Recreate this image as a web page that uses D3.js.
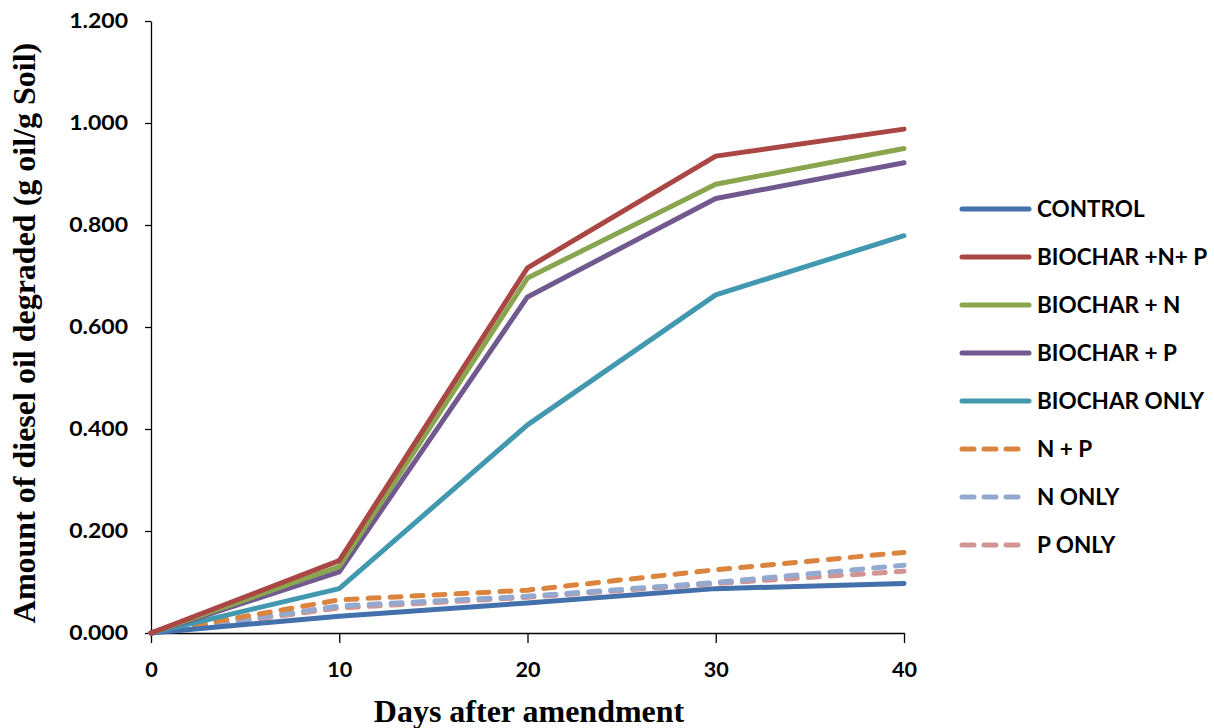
<!DOCTYPE html>
<html><head><meta charset="utf-8">
<script src="https://cdn.jsdelivr.net/npm/d3@7"></script>
<style>body{margin:0;background:#fff}svg{display:block}</style>
</head><body>
<svg id="c" width="1214" height="728"></svg>
<script>
const days = [0, 10, 20, 30, 40];
const seriesNames = ["CONTROL", "BIOCHAR +N+ P", "BIOCHAR + N", "BIOCHAR + P", "BIOCHAR ONLY", "N + P", "N ONLY", "P ONLY"];
const control      = [0, 0.033, 0.059, 0.087, 0.097];
const biocharNP    = [0, 0.142, 0.716, 0.935, 0.988];
const biocharN     = [0, 0.130, 0.696, 0.880, 0.950];
const biocharP     = [0, 0.120, 0.659, 0.852, 0.922];
const biocharOnly  = [0, 0.087, 0.408, 0.663, 0.779];
const nP           = [0, 0.065, 0.084, 0.124, 0.158];
const nOnly        = [0, 0.053, 0.072, 0.099, 0.133];
const pOnly        = [0, 0.049, 0.070, 0.097, 0.121];
const yTicks = [0, 0.2, 0.4, 0.6, 0.8, 1.0, 1.2];
const xTicks = [0, 10, 20, 30, 40];

const values = [control, biocharNP, biocharN, biocharP, biocharOnly, nP, nOnly, pOnly];
const colors = ["#4470AB", "#AA4643", "#89A54E", "#71588F", "#4198AF", "#DB843D", "#93A9D0", "#D39594"];
const dashed = [false, false, false, false, false, true, true, true];

const svg = d3.select("#c");
const x = d3.scaleLinear().domain([0, 40]).range([151, 904]);
const y = d3.scaleLinear().domain([0, 1.2]).range([633, 21]);

const tickFont = "Lato, 'Open Sans', sans-serif";
const serif = "'Liberation Serif', 'Times New Roman', serif";

// axes
const yAxis = svg.append("g").attr("transform", "translate(151,0)")
  .call(d3.axisLeft(y).tickValues(yTicks).tickFormat(d3.format(".3f")).tickSizeInner(6).tickSizeOuter(0).tickPadding(17));
const xAxis = svg.append("g").attr("transform", "translate(0,633)")
  .call(d3.axisBottom(x).tickValues(xTicks).tickFormat(d3.format("d")).tickSizeInner(10).tickSizeOuter(0).tickPadding(20));
[yAxis, xAxis].forEach(g => {
  g.select(".domain").attr("stroke", "#000").attr("stroke-width", 1.3);
  g.selectAll(".tick line").attr("stroke", "#000").attr("stroke-width", 1.3);
  g.selectAll(".tick text").attr("font-family", tickFont).attr("font-weight", "bold").attr("font-size", 20).attr("fill", "#000");
});
yAxis.selectAll(".tick text").each(function() {
  const w = this.getComputedTextLength();
  d3.select(this).attr("textLength", w * 1.15).attr("lengthAdjust", "spacingAndGlyphs");
});
xAxis.selectAll(".tick text").each(function() {
  const w = this.getComputedTextLength();
  d3.select(this).attr("textLength", w * 1.08).attr("lengthAdjust", "spacingAndGlyphs");
});

// lines
const line = d3.line().x((d, i) => x(days[i])).y(d => y(d));
const order = [7, 6, 5, 0, 4, 3, 2, 1];
order.forEach(k => {
  svg.append("path").datum(values[k]).attr("d", line)
    .attr("fill", "none").attr("stroke", colors[k]).attr("stroke-width", 5)
    .attr("stroke-linejoin", "round").attr("stroke-linecap", "round")
    .attr("stroke-dasharray", dashed[k] ? "11,11" : null);
});

// legend
const lg = svg.append("g");
seriesNames.forEach((name, i) => {
  const yy = 209 + i * 48;
  lg.append("line").attr("x1", 962).attr("x2", dashed[i] ? 1019 : 1029).attr("y1", yy).attr("y2", yy)
    .attr("stroke", colors[i]).attr("stroke-width", 5).attr("stroke-linecap", "round")
    .attr("stroke-dasharray", dashed[i] ? "12,10" : null);
  lg.append("text").attr("x", 1037).attr("y", yy).attr("dy", "0.36em")
    .attr("font-family", tickFont).attr("font-weight", "bold").attr("font-size", 22.5).attr("fill", "#000")
    .text(name);
});

// axis titles
svg.append("text").attr("x", 529).attr("y", 722).attr("text-anchor", "middle")
  .attr("font-family", serif).attr("font-weight", "bold").attr("font-size", 32)
  .text("Days after amendment");
svg.append("text").attr("transform", "translate(35,333) rotate(-90)").attr("text-anchor", "middle")
  .attr("font-family", serif).attr("font-weight", "bold").attr("font-size", 32)
  .text("Amount of diesel oil degraded (g oil/g Soil)");
</script>
</body></html>
